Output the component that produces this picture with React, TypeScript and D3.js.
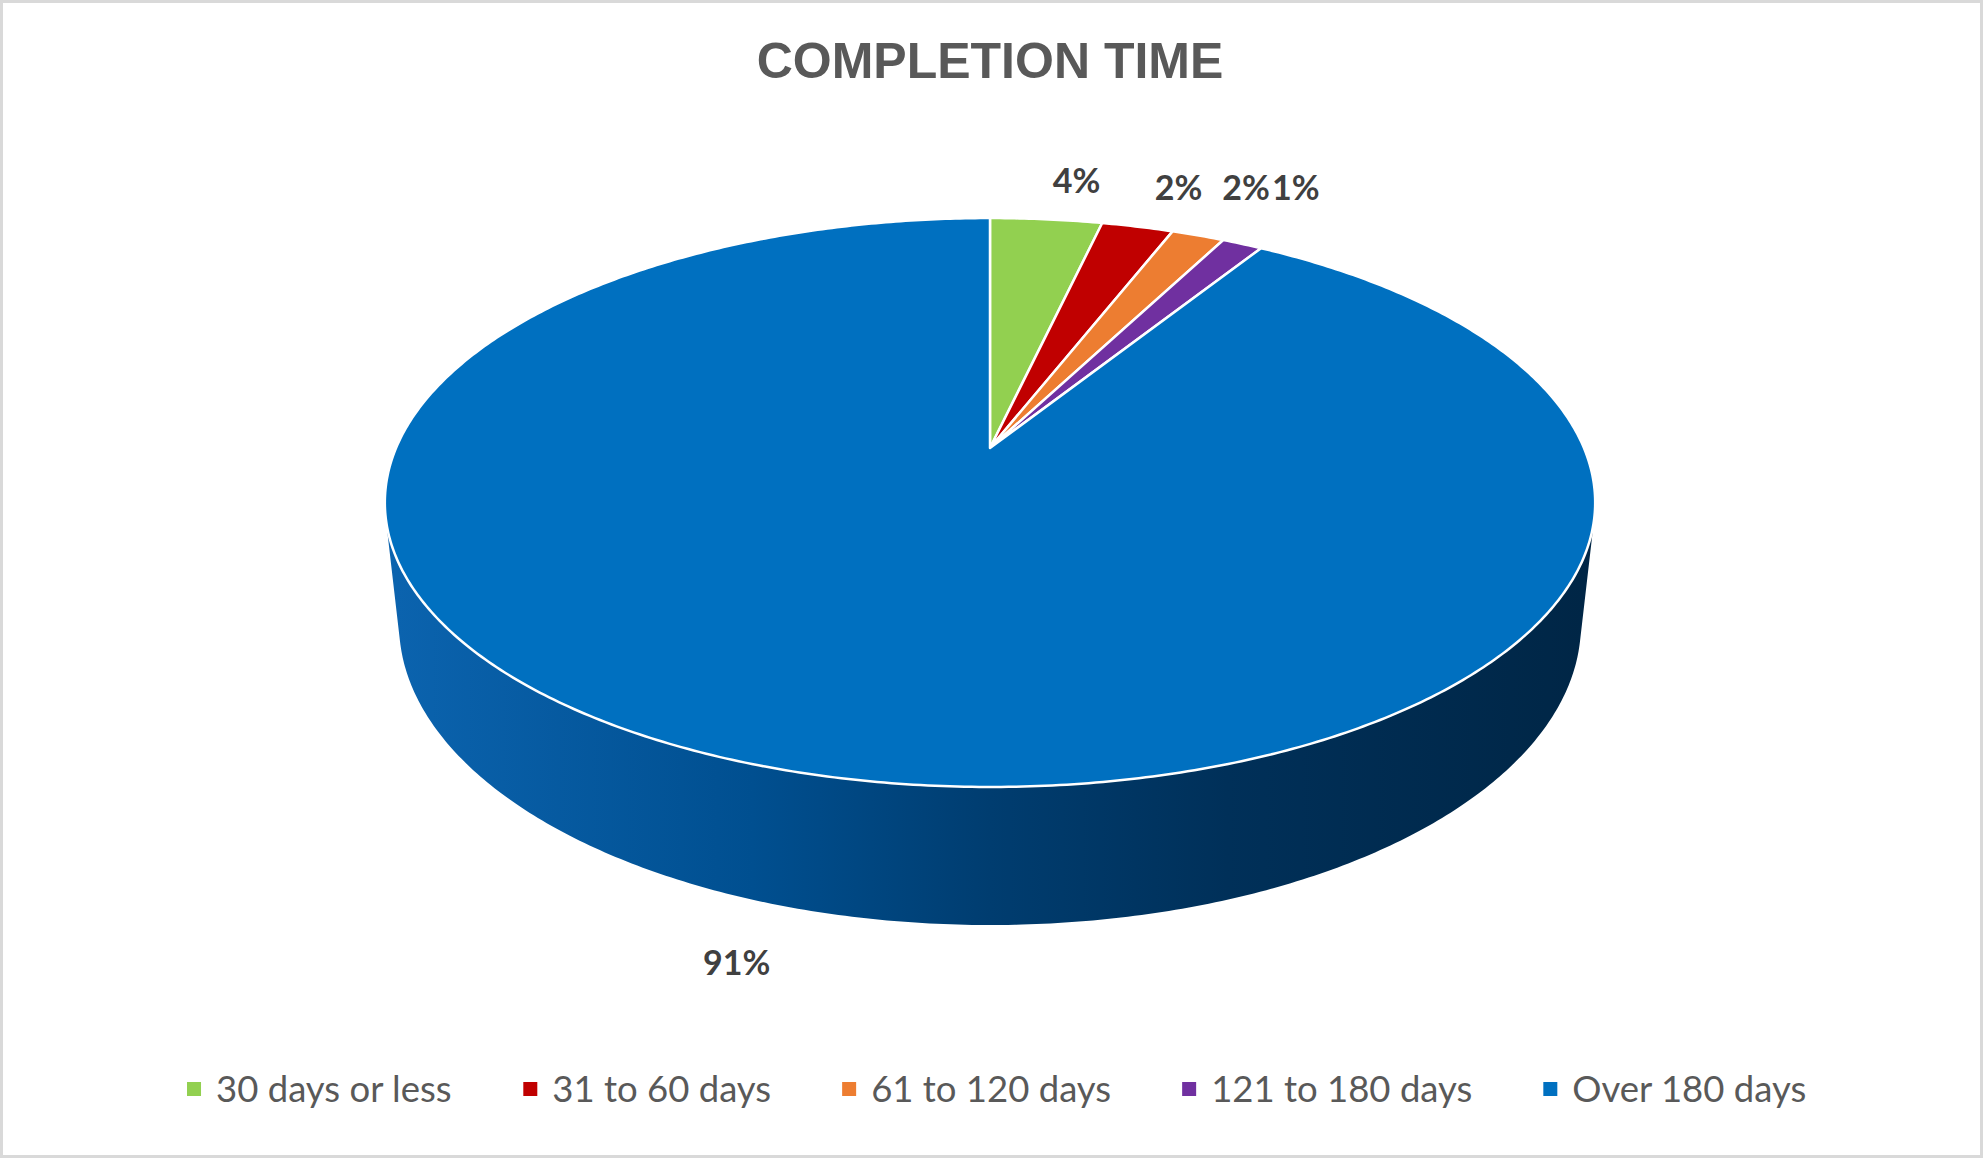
import React from "react";
import * as d3 from "d3";

const categories = ["30 days or less", "31 to 60 days", "61 to 120 days", "121 to 180 days", "Over 180 days"];
const values = [3.6, 2.3, 1.7, 1.3, 91.1];
const colors = ["#92D050", "#C00000", "#ED7D31", "#7030A0", "#0070C0"];
const title = "COMPLETION TIME";

const W = 1983;
const H = 1158;

// 3D perspective camera for the pie
const CX = 990;
const CY = 448;
const F = 2750;
const DIST = 4.63;
const PHI = Math.asin(0.4613);
const THICK = 0.2328;

function proj(X: number, Y: number, Z: number): [number, number] {
  const depth = DIST + Y * Math.cos(PHI) - Z * Math.sin(PHI);
  const sx = CX + (F * X) / depth;
  const sy = CY - (F * (Y * Math.sin(PHI) + Z * Math.cos(PHI))) / depth;
  return [sx, sy];
}

function arcPts(a0: number, a1: number, z: number, r = 1): [number, number][] {
  const n = Math.max(2, Math.ceil(Math.abs(a1 - a0) / 0.01));
  const pts: [number, number][] = [];
  for (let i = 0; i <= n; i++) {
    const t = a0 + ((a1 - a0) * i) / n;
    pts.push(proj(r * Math.sin(t), r * Math.cos(t), z));
  }
  return pts;
}

const measureCanvas = typeof document !== "undefined" ? document.createElement("canvas") : null;
function textWidth(s: string, font: string): number {
  if (!measureCanvas) return s.length * 18;
  const ctx = measureCanvas.getContext("2d")!;
  ctx.font = font;
  return ctx.measureText(s).width;
}

export default function App() {
  const total = d3.sum(values);
  const arcs = d3.pie<number>().sort(null).value((d) => d)(values);
  const fmt = d3.format(".0%");
  const line = d3.line();

  // visible front side range
  const tVis = Math.acos(-1 / (DIST * Math.cos(PHI)));
  const visA0 = tVis;
  const visA1 = 2 * Math.PI - tVis;

  const sides = arcs
    .map((a, i) => {
      const s = Math.max(a.startAngle, visA0);
      const e = Math.min(a.endAngle, visA1);
      if (e <= s) return null;
      const top = arcPts(s, e, 0);
      const bot = arcPts(e, s, -THICK);
      return { i, d: line([...top, ...bot])! + "Z" };
    })
    .filter(Boolean) as { i: number; d: string }[];

  const center = proj(0, 0, 0);
  const tops = arcs.map((a, i) => {
    const pts = [center, ...arcPts(a.startAngle, a.endAngle, 0)];
    return { i, d: line(pts)! + "Z" };
  });

  const topY = proj(0, 1, 0)[1];
  const labelFont = 34;
  const cap = labelFont * 0.72;
  const dataLabels = arcs.map((a, i) => {
    const m = (a.startAngle + a.endAngle) / 2;
    const front = Math.cos(m) < 0;
    const r = front ? 1.1 : 1.14;
    const X = r * Math.sin(m);
    const Y = r * Math.cos(m);
    const [sx, sy] = proj(X, Y, front ? -THICK : 0);
    const anchor = Math.sin(m) >= 0 ? "start" : "end";
    const y = front ? sy + cap : Math.min(sy, topY - 18);
    return { i, x: sx, y, anchor, text: fmt(values[i] / total) };
  });

  // legend layout
  const legFontSize = 36.5;
  const legFont = `${legFontSize}px Lato`;
  const sq = 14;
  const sqGap = 15;
  const itemGap = 71;
  const widths = categories.map((c) => sq + sqGap + textWidth(c, legFont));
  const legTotal = d3.sum(widths) + itemGap * (categories.length - 1);
  let lx = 997 - legTotal / 2;
  const legY = 1089;
  const legend = categories.map((c, i) => {
    const item = { c, i, x: lx };
    lx += widths[i] + itemGap;
    return item;
  });

  return (
    <svg
      width={W}
      height={H}
      style={{ position: "fixed", left: 0, top: 0, background: "#fff" }}
      xmlns="http://www.w3.org/2000/svg"
    >
      <defs>
        <linearGradient id="sideGrad" gradientUnits="userSpaceOnUse" x1={proj(-1, 0, 0)[0]} y1={0} x2={proj(1, 0, 0)[0]} y2={0}>
          <stop offset="0" stopColor="#0b63ae" />
          <stop offset="0.3" stopColor="#004f90" />
          <stop offset="0.5" stopColor="#003d70" />
          <stop offset="0.7" stopColor="#003059" />
          <stop offset="1" stopColor="#002646" />
        </linearGradient>
      </defs>
      <rect x={1.5} y={1.5} width={W - 3} height={H - 3} fill="#fff" stroke="#d9d9d9" strokeWidth={3} />
      <text
        x={CX}
        y={78}
        textAnchor="middle"
        fontFamily="'Liberation Sans', Arial, sans-serif"
        fontWeight="bold"
        fontSize={50}
        fill="#595959"
      >
        {title}
      </text>
      <g>
        {sides.map((s) => (
          <path key={"s" + s.i} d={s.d} fill={s.i === 4 ? "url(#sideGrad)" : d3.color(colors[s.i])!.darker(1.5).toString()} />
        ))}
        {tops.map((t) => (
          <path
            key={"t" + t.i}
            d={t.d}
            fill={colors[t.i]}
            stroke="#fff"
            strokeWidth={2.5}
            strokeLinejoin="round"
          />
        ))}
      </g>
      <g fontFamily="Lato, sans-serif" fontWeight="bold" fontSize={labelFont} fill="#404040">
        {dataLabels.map((l) => (
          <text key={"l" + l.i} x={l.x} y={l.y} textAnchor={l.anchor}>
            {l.text}
          </text>
        ))}
      </g>
      <g fontFamily="Lato, sans-serif" fontSize={legFontSize} fill="#595959">
        {legend.map((g) => (
          <g key={"g" + g.i}>
            <rect x={g.x} y={legY - sq / 2} width={sq} height={sq} fill={colors[g.i]} />
            <text x={g.x + sq + sqGap} y={legY + 13}>
              {g.c}
            </text>
          </g>
        ))}
      </g>
    </svg>
  );
}
